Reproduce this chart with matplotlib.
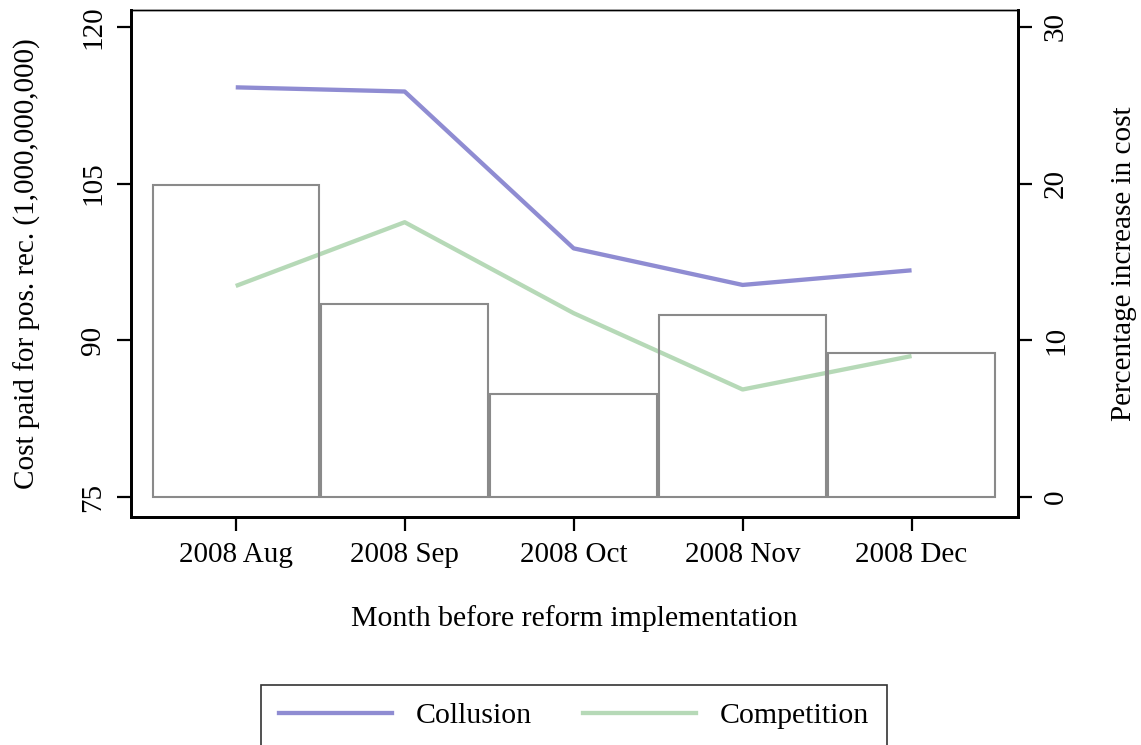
import numpy as np
import matplotlib.pyplot as plt
from matplotlib.lines import Line2D

plt.rcParams['font.family'] = ['Liberation Serif', 'DejaVu Serif']

months = ["2008 Aug", "2008 Sep", "2008 Oct", "2008 Nov", "2008 Dec"]
collusion = [114.2, 113.8, 98.8, 95.3, 96.7]
competition = [95.2, 101.3, 92.6, 85.3, 88.5]
pct_increase = [19.9, 12.3, 6.6, 11.6, 9.2]

purple = "#8f8cd2"
green = "#b6d9b7"

fig = plt.figure(figsize=(11.41, 7.45), dpi=100)
ax = fig.add_axes([0.1148, 0.306, 0.7774, 0.6806])
x = np.arange(len(months))

ax.plot(x, collusion, color=purple, lw=3.1, solid_capstyle='butt', zorder=2)
ax.plot(x, competition, color=green, lw=3.1, solid_capstyle='butt', zorder=2)
ax.set_xlim(-0.62, 4.63)
ax.set_ylim(73.1, 121.6)
ax.set_yticks([75, 90, 105, 120])
ax.set_xticks(x)
ax.set_xticklabels(months)

ax2 = ax.twinx()
ax2.bar(x, pct_increase, width=0.985, facecolor='none', edgecolor='#8a8a8a', lw=1.5, zorder=3)
ax2.set_ylim(-1.28, 31.08)
ax2.set_yticks([0, 10, 20, 30])

for a in (ax, ax2):
    for s in a.spines.values():
        s.set_linewidth(2.0)
    a.spines['top'].set_linewidth(1.0)
    a.tick_params(axis='both', which='major', length=10, width=1.6, labelsize=21, pad=8)

for lab in ax.get_yticklabels():
    lab.set_rotation(90)
    lab.set_va('center')
for lab in ax2.get_yticklabels():
    lab.set_rotation(90)
    lab.set_va('center')

ax.set_ylabel("Cost paid for pos. rec. (1,000,000,000)", fontsize=21, labelpad=28)
ax2.set_ylabel("Percentage increase in cost", fontsize=21, labelpad=30)
ax.set_xlabel("Month before reform implementation", fontsize=21.5, labelpad=27)

handles = [Line2D([], [], color=purple, lw=3.1),
           Line2D([], [], color=green, lw=3.1)]
leg = fig.legend(handles, ["Collusion", "Competition"], loc='center',
                 bbox_to_anchor=(574 / 1141, 1 - 716 / 745), ncol=2,
                 fontsize=21.5, frameon=True, fancybox=False, edgecolor='black',
                 handlelength=3.8, columnspacing=1.7, borderpad=0.6, handletextpad=0.8)
leg.get_frame().set_linewidth(1.2)

fig.savefig("out.png", dpi=100)
